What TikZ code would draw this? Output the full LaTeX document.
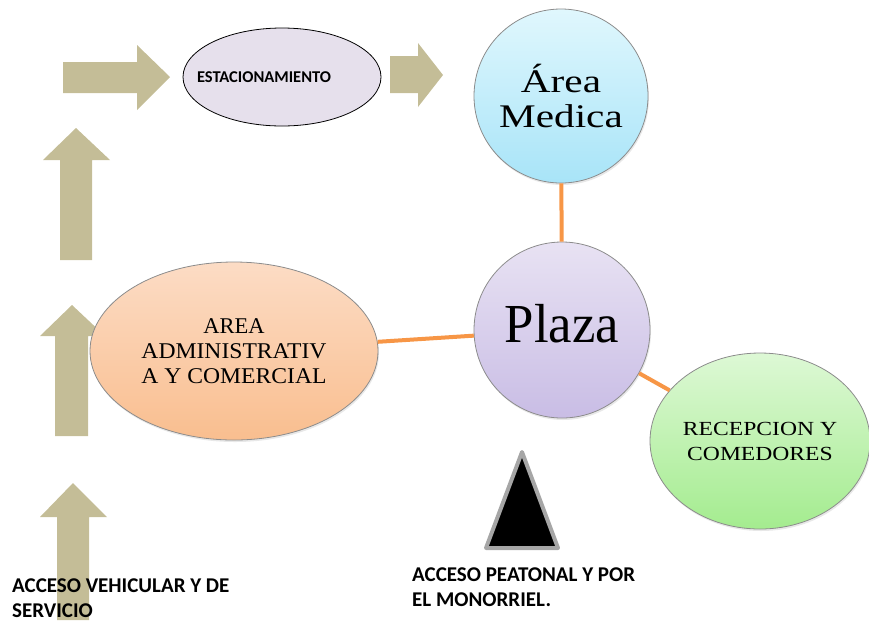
\documentclass[tikz,border=0pt]{standalone}
\usepackage{fontspec}
\setmainfont{Liberation Serif}
\newfontfamily\calib{Carlito}
\usetikzlibrary{shapes.geometric,shadows}
\definecolor{arrowtan}{HTML}{C4BD97}
\definecolor{linkorange}{HTML}{F79646}
\definecolor{bordergray}{HTML}{8C8C8C}
\definecolor{trigray}{HTML}{A6A6A6}
\definecolor{medtop}{HTML}{E0F7FD}
\definecolor{medbot}{HTML}{A8E4F8}
\definecolor{platop}{HTML}{E8E2F3}
\definecolor{plabot}{HTML}{C9BDE5}
\definecolor{aretop}{HTML}{FCDCC5}
\definecolor{arebot}{HTML}{F9BE8F}
\definecolor{rectop}{HTML}{DDF8D5}
\definecolor{recbot}{HTML}{A4EC8F}
\definecolor{estfill}{HTML}{E6E0EC}
\newcommand{\wide}[2]{\scalebox{#1}[1]{#2}}
\begin{document}
\begin{tikzpicture}[x=1pt,y=-1pt,
  blockarrow/.style={fill=arrowtan, draw=none},
  link/.style={draw=linkorange, line width=4pt},
  bubble/.style={draw=bordergray, line width=0.8pt, inner sep=0pt,
    drop shadow={opacity=0.18, shadow xshift=1pt, shadow yshift=-2pt}},
  lbl/.style={font=\calib\bfseries\fontsize{21}{25}\selectfont, inner sep=0pt}]
\useasboundingbox (0,0) rectangle (869,625);

% block arrows
\fill[blockarrow] (63,62) -- (137,62) -- (137,45) -- (170,77) -- (137,110) -- (137,93) -- (63,93) -- cycle;
\fill[blockarrow] (390,56) -- (418,56) -- (418,43) -- (443,75) -- (418,107) -- (418,93) -- (390,93) -- cycle;
\fill[blockarrow] (60,260) -- (60,160) -- (43,160) -- (76,128) -- (110,160) -- (92,160) -- (92,260) -- cycle;
\fill[blockarrow] (55,436) -- (55,336) -- (40,336) -- (72,305) -- (105,336) -- (88,336) -- (88,436) -- cycle;
\fill[blockarrow] (57,620) -- (57,517) -- (40,517) -- (73,483) -- (107,517) -- (89,517) -- (89,620) -- cycle;

% shapes
\node[draw=black, line width=0.8pt, fill=estfill, ellipse, minimum width=198pt, minimum height=98pt, inner sep=0pt] (estac) at (282,77) {};
\node[font=\calib\bfseries\fontsize{16.5}{18}\selectfont, inner sep=0pt] (estactext) at (264,77) {ESTACIONAMIENTO};

\node[bubble, circle, minimum size=174pt, top color=medtop, bottom color=medbot,
  font=\fontsize{33}{35}\selectfont, align=center] (medica) at (561,96) {\wide{1.25}{Área}\\\wide{1.25}{Medica}};
\node[bubble, circle, minimum size=176pt, top color=platop, bottom color=plabot,
  font=\fontsize{55}{60}\selectfont, text depth=14pt] (plaza) at (562,330) {\wide{0.96}{Plaza}};
\node[bubble, ellipse, minimum width=288pt, minimum height=178pt, top color=aretop, bottom color=arebot,
  font=\fontsize{22.5}{25}\selectfont, align=center] (area) at (234,351) {AREA\\\wide{1.05}{ADMINISTRATIV}\\\wide{1.05}{A Y COMERCIAL}};
\node[bubble, ellipse, minimum width=220pt, minimum height=176pt, top color=rectop, bottom color=recbot,
  font=\fontsize{20}{25}\selectfont, align=center] (recep) at (760,441) {\wide{1.18}{RECEPCION Y}\\\wide{1.18}{COMEDORES}};

% connectors
\draw[link] (medica) -- (plaza);
\draw[link] (area) -- (plaza);
\draw[link] (plaza) -- (recep);

% pedestrian access triangle
\filldraw[draw=trigray, line width=4pt, fill=black, line join=round] (522,452) -- (558,548) -- (486,548) -- cycle;

% labels
\node[lbl, anchor=base west] (vehic) at (12,592) {\vtop{\hbox{ACCESO VEHICULAR Y DE}\hbox{SERVICIO}}};
\node[lbl, anchor=base west] (peat) at (412,581) {\vtop{\hbox{ACCESO PEATONAL Y POR}\hbox{EL MONORRIEL.}}};
\end{tikzpicture}
\end{document}
